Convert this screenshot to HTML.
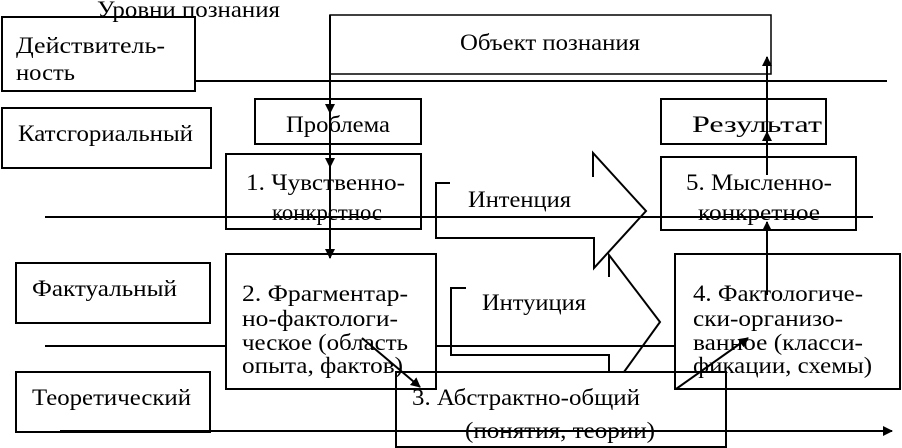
<!DOCTYPE html>
<html><head><meta charset="utf-8"><style>
html,body{margin:0;padding:0;background:#fff;}
svg{display:block;}
text{font-family:"Liberation Serif",serif;font-size:23px;fill:#000;}
</style></head><body>
<svg width="902" height="448" viewBox="0 0 902 448" xmlns="http://www.w3.org/2000/svg">
<defs>
<marker id="a" markerWidth="10" markerHeight="10" refX="9" refY="5" orient="auto" markerUnits="userSpaceOnUse">
<path d="M0,0 L10,5 L0,10 z" fill="#000"/></marker>
</defs>
<g fill="none" stroke="#000" stroke-width="2">
<line x1="195" y1="81" x2="887" y2="81"/>
<line x1="45" y1="217" x2="873" y2="217"/>
<line x1="45" y1="346" x2="226" y2="346"/>
<line x1="436" y1="346" x2="675" y2="346"/>
<line x1="60" y1="431" x2="892" y2="431" marker-end="url(#a)"/>
<rect x="2" y="17" width="193" height="74" fill="#fff"/>
<rect x="2" y="108" width="209" height="60"/>
<rect x="16" y="263" width="194" height="60"/>
<rect x="16" y="372" width="194" height="60"/>
<rect x="255" y="99" width="166" height="45"/>
<rect x="661" y="99" width="165" height="45"/>
<rect x="226" y="154" width="195" height="75"/>
<rect x="661" y="157" width="195" height="73"/>
<rect x="226" y="254" width="210" height="135"/>
<rect x="675" y="254" width="225" height="135"/>
<rect x="396" y="372" width="330" height="75"/>
<polyline points="330,74 330,15 771,15 771,74 330,74" stroke-width="1.5"/>
<polyline points="450,183 436,183 436,238 594,238 594,268 646,211 593,153 593,177"/>
<polyline points="466,288 451,288 451,355 609,355 609,372"/>
<polyline points="609,277 609,255 660,322 624,372"/>
<line x1="330" y1="15" x2="330" y2="113" marker-end="url(#a)"/>
<line x1="330" y1="113" x2="330" y2="167" marker-end="url(#a)"/>
<line x1="330" y1="167" x2="330" y2="258" marker-end="url(#a)"/>
<line x1="767" y1="295" x2="767" y2="222" marker-end="url(#a)"/>
<line x1="767" y1="175" x2="767" y2="132" marker-end="url(#a)"/>
<line x1="767" y1="132" x2="767" y2="57" marker-end="url(#a)"/>
<line x1="362" y1="338" x2="420" y2="387" marker-end="url(#a)"/>
<line x1="676" y1="389" x2="748" y2="338" marker-end="url(#a)"/>
</g>
<g lengthAdjust="spacingAndGlyphs">
<text x="97" y="17" textLength="183" lengthAdjust="spacingAndGlyphs">Уровни познания</text>
<text x="16" y="53" textLength="149" lengthAdjust="spacingAndGlyphs">Действитель-</text>
<text x="16" y="80" textLength="59" lengthAdjust="spacingAndGlyphs">ность</text>
<text x="460" y="50" textLength="180" lengthAdjust="spacingAndGlyphs">Объект познания</text>
<text x="18" y="141" textLength="175" lengthAdjust="spacingAndGlyphs">Катсгориальный</text>
<text x="286" y="132" textLength="104" lengthAdjust="spacingAndGlyphs">Проблема</text>
<text x="692" y="132" textLength="130" lengthAdjust="spacingAndGlyphs">Результат</text>
<text x="246" y="190" textLength="159" lengthAdjust="spacingAndGlyphs">1. Чувственно-</text>
<text x="272" y="220" textLength="110" lengthAdjust="spacingAndGlyphs">конкрстнос</text>
<text x="686" y="190" textLength="146" lengthAdjust="spacingAndGlyphs">5. Мысленно-</text>
<text x="698" y="220" textLength="122" lengthAdjust="spacingAndGlyphs">конкретное</text>
<text x="468" y="207" textLength="103" lengthAdjust="spacingAndGlyphs">Интенция</text>
<text x="482" y="310" textLength="104" lengthAdjust="spacingAndGlyphs">Интуиция</text>
<text x="32" y="296" textLength="145" lengthAdjust="spacingAndGlyphs">Фактуальный</text>
<text x="32" y="405" textLength="159" lengthAdjust="spacingAndGlyphs">Теоретический</text>
<text x="242" y="301" textLength="166" lengthAdjust="spacingAndGlyphs">2. Фрагментар-</text>
<text x="242" y="326" textLength="156" lengthAdjust="spacingAndGlyphs">но-фактологи-</text>
<text x="242" y="350" textLength="166" lengthAdjust="spacingAndGlyphs">ческое (область</text>
<text x="242" y="373" textLength="161" lengthAdjust="spacingAndGlyphs">опыта, фактов)</text>
<text x="693" y="301" textLength="170" lengthAdjust="spacingAndGlyphs">4. Фактологиче-</text>
<text x="693" y="326" textLength="150" lengthAdjust="spacingAndGlyphs">ски-организо-</text>
<text x="693" y="350" textLength="170" lengthAdjust="spacingAndGlyphs">ванное (класси-</text>
<text x="693" y="373" textLength="179" lengthAdjust="spacingAndGlyphs">фикации, схемы)</text>
<text x="412" y="405" textLength="228" lengthAdjust="spacingAndGlyphs">3. Абстрактно-общий</text>
<text x="465" y="438" textLength="190" lengthAdjust="spacingAndGlyphs">(понятия, теории)</text>
</g>
</svg>
</body></html>
